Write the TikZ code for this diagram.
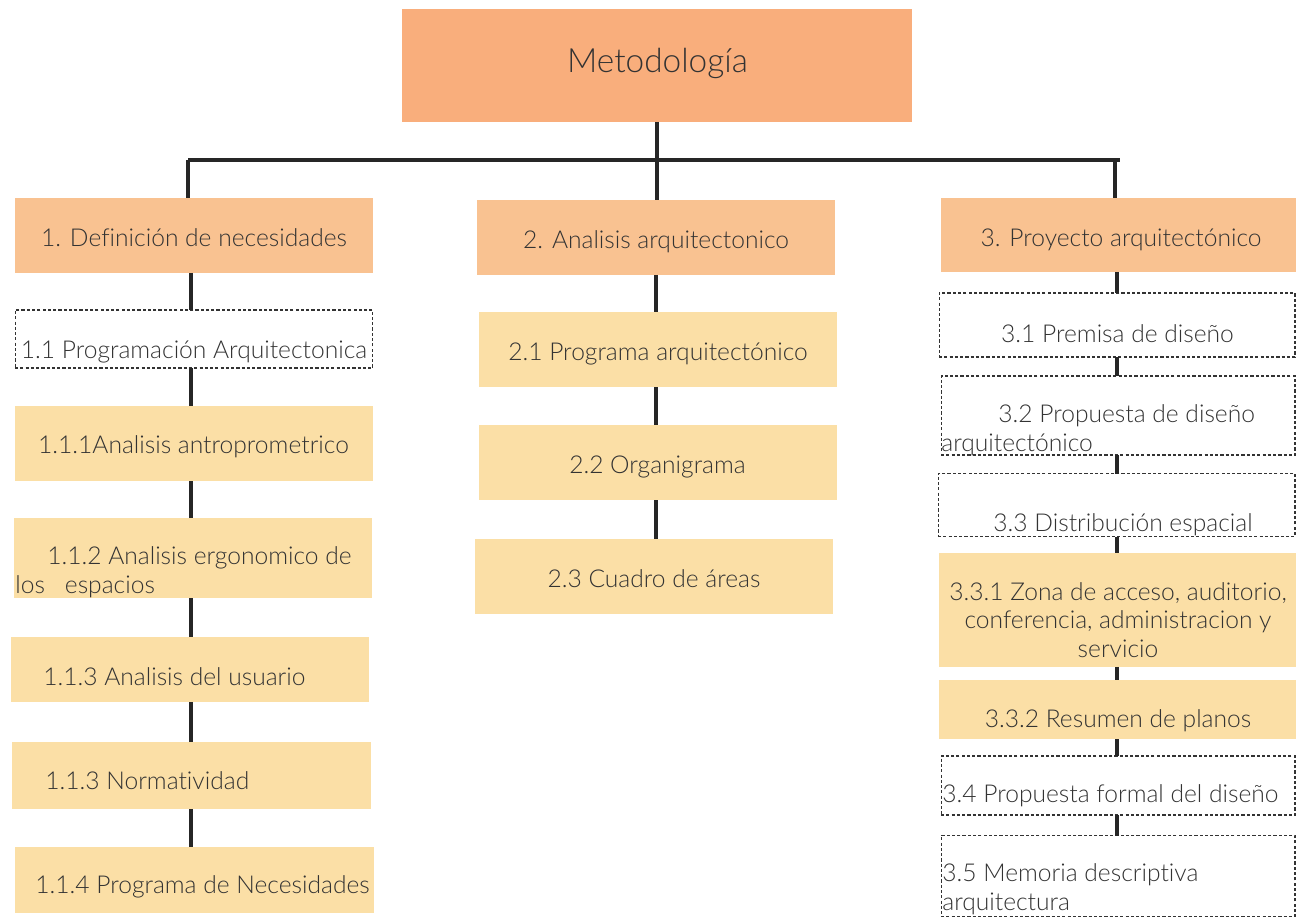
\documentclass[tikz,border=0pt]{standalone}
\usepackage{fontspec}
\setmainfont{Lato}[UprightFont={* Light},Ligatures=NoCommon]
\definecolor{rootfill}{HTML}{F9AE7C}
\definecolor{headfill}{HTML}{F9C291}
\definecolor{itemfill}{HTML}{FBDFA6}
\definecolor{ink}{HTML}{333333}
\tikzset{
  box/.style={inner sep=0pt,outer sep=0pt},
  root/.style={box,fill=rootfill},
  head/.style={box,fill=headfill},
  item/.style={box,fill=itemfill},
  dbox/.style={box,draw=ink,line width=0.6pt,dash pattern=on 1.8pt off 1.2pt},
  txt/.style={text=ink,inner sep=0pt,font=\fontsize{14}{16}\selectfont},
  link/.style={draw=black!85,line width=1.8pt},
}
\begin{document}
\begin{tikzpicture}[x=0.02cm,y=-0.02cm]
  \useasboundingbox (0,0) rectangle (1296,917);
  % boxes
  \node[root,minimum width=10.2cm,minimum height=2.26cm] (root) at (657,65.5) {};
  \node[head,minimum width=7.16cm,minimum height=1.5cm] (d1) at (194,235.5) {};
  \node[head,minimum width=7.16cm,minimum height=1.5cm] (d2) at (656,237.5) {};
  \node[head,minimum width=7.1cm,minimum height=1.48cm] (d3) at (1118.5,235) {};
  \node[dbox,minimum width=7.16cm,minimum height=1.16cm] (p11) at (194,339) {};
  \node[item,minimum width=7.16cm,minimum height=1.5cm] (p111) at (194,443.5) {};
  \node[item,minimum width=7.16cm,minimum height=1.6cm] (p112) at (193,558) {};
  \node[item,minimum width=7.16cm,minimum height=1.3cm] (p113) at (190,669.5) {};
  \node[item,minimum width=7.18cm,minimum height=1.34cm] (norm) at (191.5,775.5) {};
  \node[item,minimum width=7.18cm,minimum height=1.32cm] (p114) at (194.5,880) {};
  \node[item,minimum width=7.16cm,minimum height=1.5cm] (p21) at (658,349.5) {};
  \node[item,minimum width=7.16cm,minimum height=1.5cm] (p22) at (658,462.5) {};
  \node[item,minimum width=7.16cm,minimum height=1.5cm] (p23) at (654,576.5) {};
  \node[dbox,minimum width=7.12cm,minimum height=1.28cm] (p31) at (1117,325) {};
  \node[dbox,minimum width=7.08cm,minimum height=1.58cm] (p32) at (1118,415.5) {};
  \node[dbox,minimum width=7.14cm,minimum height=1.26cm] (p33) at (1116.5,505) {};
  \node[item,minimum width=7.14cm,minimum height=2.28cm] (p331) at (1117.5,610) {};
  \node[item,minimum width=7.14cm,minimum height=1.18cm] (p332) at (1117.5,709.5) {};
  \node[dbox,minimum width=7.08cm,minimum height=1.18cm] (p34) at (1118,785.5) {};
  \node[dbox,minimum width=7.08cm,minimum height=1.62cm] (p35) at (1118,876) {};

  % texts (multi-line ones sit on the baseline of their last line)
  \node[txt,anchor=base,font=\fontsize{19}{22}\selectfont] (root-t) at (657.5,72) {Metodología};
  \node[txt,anchor=base] (d1-t) at (194,246) {1. Definición de necesidades};
  \node[txt,anchor=base] (d2-t) at (656,248) {2. Analisis arquitectonico};
  \node[txt,anchor=base] (d3-t) at (1121,246) {3. Proyecto arquitectónico};
  \node[txt,anchor=base] (p11-t) at (194,358) {1.1 Programación Arquitectonica};
  \node[txt,anchor=base] (p111-t) at (193.5,453) {1.1.1Analisis antroprometrico};
  \node[txt,anchor=base west,align=left] (p112-t) at (15,593) {\hspace*{0.64cm}1.1.2 Analisis ergonomico de\\los\hspace{0.4cm}espacios};
  \node[txt,anchor=base west] (p113-t) at (43,685) {1.1.3 Analisis del usuario};
  \node[txt,anchor=base west] (norm-t) at (45,789) {1.1.3 Normatividad};
  \node[txt,anchor=base west] (p114-t) at (35,893) {1.1.4 Programa de Necesidades};
  \node[txt,anchor=base] (p21-t) at (658,360) {2.1 Programa arquitectónico};
  \node[txt,anchor=base] (p22-t) at (657.5,473) {2.2 Organigrama};
  \node[txt,anchor=base] (p23-t) at (654,587) {2.3 Cuadro de áreas};
  \node[txt,anchor=base] (p31-t) at (1117.5,342) {3.1 Premisa de diseño};
  \node[txt,anchor=base west,align=left] (p32-t) at (941,451) {\hspace*{1.14cm}3.2 Propuesta de diseño\\arquitectónico};
  \node[txt,anchor=base] (p33-t) at (1123,531) {3.3 Distribución espacial};
  \node[txt,anchor=base,align=center] (p331-t) at (1118,657) {3.3.1 Zona de acceso, auditorio,\\conferencia, administracion y\\servicio};
  \node[txt,anchor=base] (p332-t) at (1118,727) {3.3.2 Resumen de planos};
  \node[txt,anchor=base west] (p34-t) at (942,802) {3.4 Propuesta formal del diseño};
  \node[txt,anchor=base west,align=left] (p35-t) at (942,910) {3.5 Memoria descriptiva\\arquitectura};

  % connectors
  \coordinate (busL) at (188,160); \coordinate (busR) at (1120,160); \coordinate (drop3) at (1115,160);
  \coordinate (c1) at (191,0); \coordinate (c2) at (656,0); \coordinate (c3) at (1117,0);
  \draw[link] (busL) -- (busR);
  \draw[link] (root.south) -- (root.south |- d2.north);
  \draw[link] (busL) -- (busL |- d1.north);
  \draw[link] (drop3) -- (drop3 |- d3.north);
  \draw[link] (d1.south -| c1) -- (p11.north -| c1);
  \draw[link] (p11.south -| c1) -- (p111.north -| c1);
  \draw[link] (p111.south -| c1) -- (p112.north -| c1);
  \draw[link] (p112.south -| c1) -- (p113.north -| c1);
  \draw[link] (p113.south -| c1) -- (norm.north -| c1);
  \draw[link] (norm.south -| c1) -- (p114.north -| c1);
  \draw[link] (d2.south -| c2) -- (p21.north -| c2);
  \draw[link] (p21.south -| c2) -- (p22.north -| c2);
  \draw[link] (p22.south -| c2) -- (p23.north -| c2);
  \draw[link] (d3.south -| c3) -- (p31.north -| c3);
  \draw[link] (p31.south -| c3) -- (p32.north -| c3);
  \draw[link] (p32.south -| c3) -- (p33.north -| c3);
  \draw[link] (p33.south -| c3) -- (p331.north -| c3);
  \draw[link] (p331.south -| c3) -- (p332.north -| c3);
  \draw[link] (p332.south -| c3) -- (p34.north -| c3);
  \draw[link] (p34.south -| c3) -- (p35.north -| c3);
\end{tikzpicture}
\end{document}
